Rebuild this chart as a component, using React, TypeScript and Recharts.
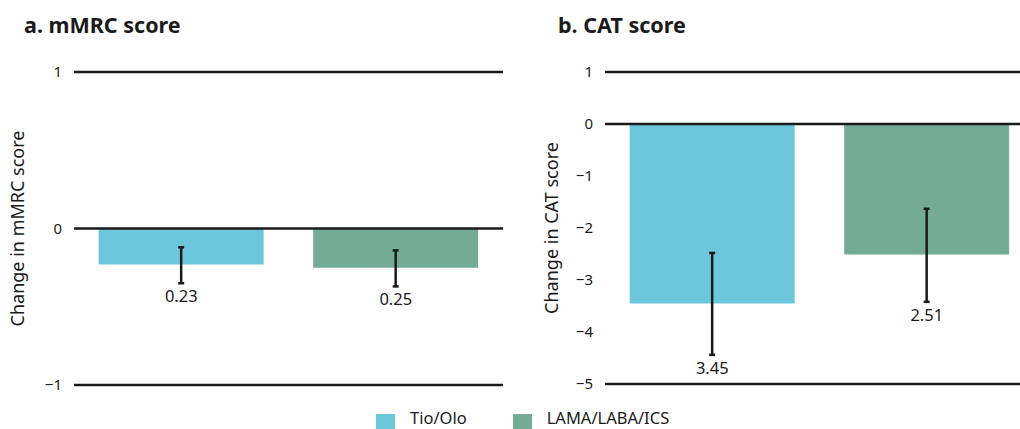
import React from 'react';
import {
  BarChart,
  Bar,
  XAxis,
  YAxis,
  ErrorBar,
  ReferenceLine,
  ReferenceDot,
  Cell,
  Label
} from 'recharts';

const groups = ['Tio/Olo', 'LAMA/LABA/ICS'];
const groupColors = ['#6cc7dc', '#74ab97'];

// a. mMRC
const mmrcValues = [-0.23, -0.25];
const mmrcCiLow = [-0.35, -0.37];
const mmrcCiHigh = [-0.12, -0.14];
const mmrcTicks = [-1, 0, 1];
const mmrcLines = [-1, 0, 1];

// b. CAT
const catValues = [-3.45, -2.51];
const catCiLow = [-4.44, -3.42];
const catCiHigh = [-2.48, -1.63];
const catTicks = [-5, -4, -3, -2, -1, 0, 1];
const catLines = [-5, 0, 1];

const FONT = '"Noto Sans", "Open Sans", sans-serif';
const INK = '#1a1a1a';

const fmtTick = (v: number) => (v < 0 ? `\u2212${Math.abs(v)}` : `${v}`);

interface PanelProps {
  values: number[];
  ciLow: number[];
  ciHigh: number[];
  ticks: number[];
  lines: number[];
  yLabel: string;
  width: number;
  height: number;
  axisWidth: number;
  labelOffset: number;
  margin: { top: number; right: number; bottom: number; left: number };
}

const Panel: React.FC<PanelProps> = ({
  values, ciLow, ciHigh, ticks, lines, yLabel, width, height, axisWidth, labelOffset, margin
}) => {
  const data = groups.map((name, i) => ({
    name,
    value: values[i],
    err: [values[i] - ciLow[i], ciHigh[i] - values[i]],
    low: ciLow[i]
  }));

  return (
    <BarChart width={width} height={height} data={data} margin={margin} barCategoryGap="11.5%">
      <XAxis dataKey="name" hide />
      <YAxis
        width={axisWidth}
        domain={[ticks[0], ticks[ticks.length - 1]]}
        ticks={ticks}
        interval={0}
        axisLine={false}
        tickLine={false}
        tickMargin={6}
        tickFormatter={fmtTick}
        tick={{ fill: INK, fontSize: 15, fontFamily: FONT }}
      >
        <Label
          value={yLabel}
          angle={-90}
          position="insideLeft"
          offset={labelOffset}
          style={{ textAnchor: 'middle', fontSize: 18, fill: INK, fontFamily: FONT }}
        />
      </YAxis>
      <Bar dataKey="value" isAnimationActive={false}>
        {data.map((d, i) => (
          <Cell key={d.name} fill={groupColors[i]} />
        ))}
        <ErrorBar dataKey="err" direction="y" width={3} strokeWidth={2.5} stroke={INK} />
      </Bar>
      {lines.map((v) => (
        <ReferenceLine key={v} y={v} stroke={INK} strokeWidth={2.5} />
      ))}
      {data.map((d) => (
        <ReferenceDot
          key={`lbl-${d.name}`}
          x={d.name}
          y={d.low}
          r={0}
          fill="none"
          stroke="none"
          label={{
            value: Math.abs(d.value).toFixed(2),
            position: 'bottom',
            offset: 7,
            fill: INK,
            fontSize: 16.5,
            fontFamily: FONT
          }}
        />
      ))}
    </BarChart>
  );
};

const titleStyle: React.CSSProperties = {
  position: 'absolute',
  top: 11,
  fontSize: 21.5,
  fontWeight: 700,
  color: INK,
  fontFamily: FONT,
  lineHeight: '28px',
  whiteSpace: 'nowrap'
};

export default function App() {
  return (
    <div
      style={{
        position: 'fixed',
        left: 0,
        top: 0,
        width: 1020,
        height: 429,
        overflow: 'hidden',
        background: '#fff',
        fontFamily: FONT
      }}
    >
      <div style={{ ...titleStyle, left: 24 }}>a. mMRC score</div>
      <div style={{ ...titleStyle, left: 558 }}>b. CAT score</div>

      <div style={{ position: 'absolute', left: 0, top: 0 }}>
        <Panel
          values={mmrcValues}
          ciLow={mmrcCiLow}
          ciHigh={mmrcCiHigh}
          ticks={mmrcTicks}
          lines={mmrcLines}
          yLabel="Change in mMRC score"
          width={510}
          height={400}
          axisWidth={74}
          labelOffset={18}
          margin={{ top: 72, right: 7, bottom: 15, left: 0 }}
        />
      </div>

      <div style={{ position: 'absolute', left: 510, top: 0 }}>
        <Panel
          values={catValues}
          ciLow={catCiLow}
          ciHigh={catCiHigh}
          ticks={catTicks}
          lines={catLines}
          yLabel="Change in CAT score"
          width={530}
          height={400}
          axisWidth={95}
          labelOffset={42}
          margin={{ top: 72, right: 6, bottom: 16, left: 0 }}
        />
      </div>

      <div style={{ position: 'absolute', left: 376, top: 408, display: 'flex', alignItems: 'flex-start' }}>
        {groups.map((g, i) => (
          <div key={g} style={{ display: 'flex', alignItems: 'flex-start', marginRight: i === 0 ? 46 : 0 }}>
            <div style={{ width: 19, height: 19, background: groupColors[i], marginTop: 6 }} />
            <div style={{ marginLeft: 15, fontSize: 16.5, color: INK, lineHeight: '20px' }}>{g}</div>
          </div>
        ))}
      </div>
    </div>
  );
}
